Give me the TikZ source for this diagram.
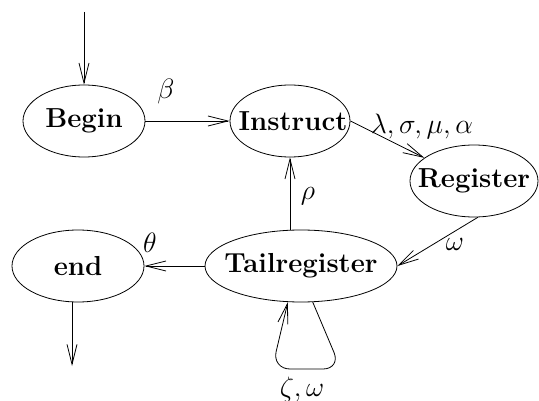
\RequirePackage{fix-cm}
\documentclass[tikz,border=0pt]{standalone}
\usetikzlibrary{arrows.meta,shapes.geometric}
\begin{document}
\begin{tikzpicture}[x=1pt,y=-1pt,
  state/.style={draw,ellipse,inner sep=0pt,minimum height=72pt,font=\fontsize{27.5}{32}\selectfont\bfseries,line width=0.8pt},
  arr/.style={-{Straight Barb[length=20pt,width=10pt,line width=0.8pt]},line width=0.8pt},
  lbl/.style={font=\fontsize{28}{32}\selectfont}]
\useasboundingbox (0,0) rectangle (539,401);
\node[state,minimum width=122pt] (Begin) at (84,121) {\makebox[0pt]{Begin}};
\node[state,minimum width=120pt] (Instruct) at (290,121) {\makebox[0pt]{\hspace{6pt}Instruct}};
\node[state,minimum width=128pt] (Register) at (474,181) {\makebox[0pt]{Register}};
\node[state,minimum width=192pt] (Tailregister) at (301,266) {\makebox[0pt]{Tailregister}};
\node[state,minimum width=132pt] (end) at (78,266) {\makebox[0pt]{end}};
\coordinate (in) at (84,12);
\coordinate (out) at (72,366);
\draw[arr] (in) -- (Begin.north);
\draw[arr] (Begin.east) -- (Instruct.west);
\draw[arr] (Instruct.east) -- (Register.155);
\draw[arr] (Register.-84) -- (Tailregister.east);
\draw[arr] (Tailregister.north -| Instruct.south) -- (Instruct.south);
\draw[arr] (Tailregister.west) -- (end.east);
\draw[arr] (end.south -| out) -- (out);
\draw[arr,rounded corners=18pt] (Tailregister.-72) -- (341,369) -- (272,369) -- (Tailregister.-110);
\node[lbl] (lb) at (166,92) {$\beta$};
\node[lbl] (ll) at (422,127) {$\lambda,\sigma,\mu,\alpha$};
\node[lbl] (lw) at (455,244) {$\omega$};
\node[lbl] (lr) at (308,196) {$\rho$};
\node[lbl] (lt) at (150,243) {$\theta$};
\node[lbl] (lz) at (302,389) {$\zeta,\omega$};
\end{tikzpicture}
\end{document}
